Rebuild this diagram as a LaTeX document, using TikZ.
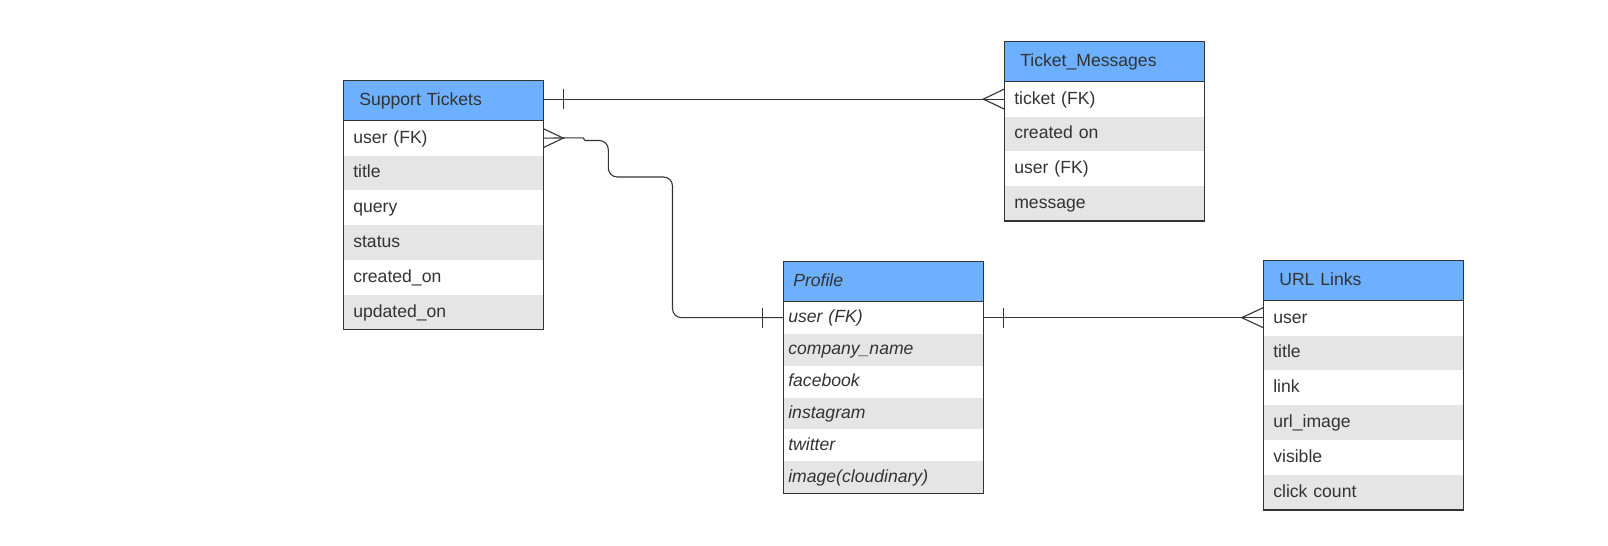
\documentclass[tikz,border=0pt]{standalone}
\usepackage{fontspec}
\setmainfont{Liberation Sans}
\definecolor{hdblue}{RGB}{108,176,255}
\definecolor{rowgray}{RGB}{229,229,229}
\definecolor{ink}{RGB}{51,51,51}
\begin{document}
\begin{tikzpicture}[x=0.5pt, y=-0.5pt, ink, line width=0.55pt,
  cell/.style={rectangle, anchor=north west, outer sep=0pt, inner ysep=0pt,
    text height=7pt, text depth=2.1pt, align=left, text=ink,
    font=\fontsize{8.8pt}{10.5pt}\selectfont},
  head/.style={cell, draw=ink, line width=0.65pt, fill=hdblue, inner xsep=8pt, text width=84pt, minimum height=20pt},
  roww/.style={cell, fill=white, inner xsep=5pt, text width=90pt},
  rowg/.style={cell, fill=rowgray, inner xsep=5pt, text width=90pt},
  box/.style={draw=ink, line width=0.65pt}]
\useasboundingbox (0,0) rectangle (1608,546);
% support tickets
\node[head] (st0) at (343.3,80.7){Support Tickets};
\node[roww, minimum height=17.43pt] (st1) at (343.3,120.7){user (FK)};
\node[rowg, minimum height=17.43pt] (st2) at (343.3,155.55){title};
\node[roww, minimum height=17.43pt] (st3) at (343.3,190.4){query};
\node[rowg, minimum height=17.43pt] (st4) at (343.3,225.25){status};
\node[roww, minimum height=17.43pt] (st5) at (343.3,260.1){created\_on};
\node[rowg, minimum height=17.43pt] (st6) at (343.3,294.95){updated\_on};
\draw[box] (st0.north west) rectangle (st6.south east);
\draw[box] (st0.south west) -- (st0.south east);
% ticket messages
\node[head] (tm0) at (1004.3,41.7){Ticket\_Messages};
\node[roww, minimum height=17.4pt] (tm1) at (1004.3,81.7){ticket (FK)};
\node[rowg, minimum height=17.4pt] (tm2) at (1004.3,116.5){created on};
\node[roww, minimum height=17.4pt] (tm3) at (1004.3,151.4){user (FK)};
\node[rowg, minimum height=17.4pt] (tm4) at (1004.3,186.2){message};
\draw[box] (tm0.north west) rectangle (tm4.south east);
\draw[box] (tm0.south west) -- (tm0.south east);
% profile
\node[head, inner xsep=5pt, text width=90pt, font=\fontsize{8.8pt}{10.5pt}\selectfont\itshape] (pr0) at (783.3,261.7){Profile};
\node[roww, inner xsep=2.5pt, text width=95pt, minimum height=15.97pt, font=\fontsize{8.8pt}{10.5pt}\selectfont\itshape] (pr1) at (783.3,301.7){user (FK)};
\node[rowg, inner xsep=2.5pt, text width=95pt, minimum height=15.97pt, font=\fontsize{8.8pt}{10.5pt}\selectfont\itshape] (pr2) at (783.3,333.6){company\_name};
\node[roww, inner xsep=2.5pt, text width=95pt, minimum height=15.97pt, font=\fontsize{8.8pt}{10.5pt}\selectfont\itshape] (pr3) at (783.3,365.6){facebook};
\node[rowg, inner xsep=2.5pt, text width=95pt, minimum height=15.97pt, font=\fontsize{8.8pt}{10.5pt}\selectfont\itshape] (pr4) at (783.3,397.5){instagram};
\node[roww, inner xsep=2.5pt, text width=95pt, minimum height=15.97pt, font=\fontsize{8.8pt}{10.5pt}\selectfont\itshape] (pr5) at (783.3,429.4){twitter};
\node[rowg, inner xsep=2.5pt, text width=95pt, minimum height=15.97pt, font=\fontsize{8.8pt}{10.5pt}\selectfont\itshape] (pr6) at (783.3,461.4){image(cloudinary)};
\draw[box] (pr0.north west) rectangle (pr6.south east);
\draw[box] (pr0.south west) -- (pr0.south east);
% url links
\node[head] (url0) at (1263.3,260.7){URL Links};
\node[roww, minimum height=17.44pt] (url1) at (1263.3,300.7){user};
\node[rowg, minimum height=17.44pt] (url2) at (1263.3,335.6){title};
\node[roww, minimum height=17.44pt] (url3) at (1263.3,370.5){link};
\node[rowg, minimum height=17.44pt] (url4) at (1263.3,405.3){url\_image};
\node[roww, minimum height=17.44pt] (url5) at (1263.3,440.2){visible};
\node[rowg, minimum height=17.44pt] (url6) at (1263.3,475.1){click count};
\draw[box] (url0.north west) rectangle (url6.south east);
\draw[box] (url0.south west) -- (url0.south east);
% support tickets -- ticket messages
\coordinate (c1) at (st0.east |- tm1.west);
\draw (c1) -- (tm1.west);
\draw ([xshift=10pt,yshift=5pt]c1) -- ([xshift=10pt,yshift=-5pt]c1);
\draw ([yshift=5pt]tm1.west) -- ([xshift=-10.5pt]tm1.west) -- ([yshift=-5pt]tm1.west);
% support tickets -- profile
\draw (st1.east) -- (583,137.8) -- (585,140.5) [rounded corners=4.5pt] -- (608.3,140.5) -- (608.3,177) -- (672.5,177) |- (pr1.west);
\draw ([yshift=4.75pt]st1.east) -- ([xshift=10pt]st1.east) -- ([yshift=-4.75pt]st1.east);
\draw ([xshift=-10.3pt,yshift=5pt]pr1.west) -- ([xshift=-10.3pt,yshift=-5pt]pr1.west);
% profile -- url links
\coordinate (c2) at (url1.west |- pr1.east);
\draw (pr1.east) -- (c2);
\draw ([xshift=10pt,yshift=5pt]pr1.east) -- ([xshift=10pt,yshift=-5pt]pr1.east);
\draw ([yshift=5pt]c2) -- ([xshift=-10.8pt]c2) -- ([yshift=-5pt]c2);
\end{tikzpicture}
\end{document}
